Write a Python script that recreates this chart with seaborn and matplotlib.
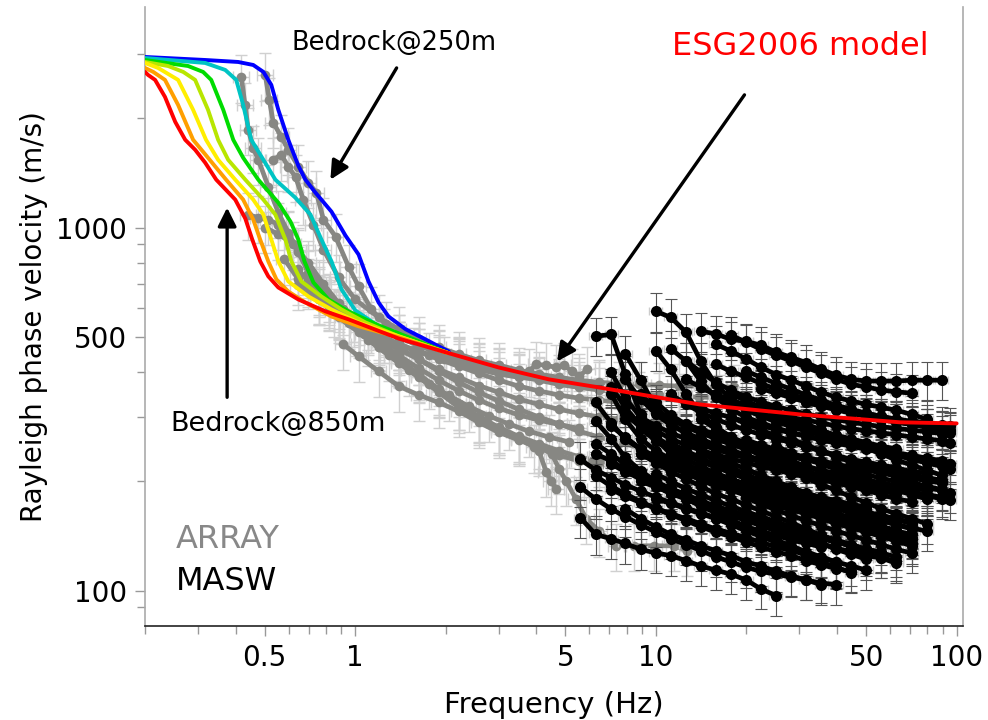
import numpy as np
import pandas as pd
import matplotlib
matplotlib.use("Agg")
import matplotlib.pyplot as plt
import seaborn as sns
from matplotlib.ticker import FixedLocator, FixedFormatter, NullFormatter

# ---------------- model dispersion curves (bedrock depth) ----------------
MODEL_NAMES = ["250m", "350m", "450m", "550m", "650m", "750m", "850m"]
MODEL_COLORS = ["#0000ff", "#00c4c4", "#00dc00", "#b8e600", "#ffee00", "#ff9f00", "#ff0000"]

F_250 = [0.2, 0.317, 0.408, 0.458, 0.495, 0.526, 0.555, 0.599, 0.647, 0.683, 0.7375, 0.834, 0.928, 1.026, 1.107, 1.196, 1.291, 1.471, 1.715, 1.895, 2.046]
V_250 = [2950, 2894, 2858, 2804, 2683, 2471, 2110, 1745, 1480, 1355, 1248, 1106, 951, 843, 711, 622, 569, 525, 492, 471, 456]
F_350 = [0.2, 0.317, 0.3696, 0.402, 0.424, 0.451, 0.495, 0.5425, 0.632, 0.7097, 0.772, 0.834, 0.900, 1.0, 1.196, 1.394, 2.046]
V_350 = [2931, 2840, 2717, 2551, 2177, 1745, 1537, 1355, 1209, 1086, 927, 807, 676, 592, 535, 502, 451]
F_450 = [0.2, 0.278, 0.312, 0.332, 0.364, 0.393, 0.424, 0.476, 0.555, 0.609, 0.647, 0.678, 0.726, 0.815, 0.95, 1.196, 2.046]
V_450 = [2894, 2786, 2683, 2551, 2110, 1745, 1557, 1355, 1171, 1039, 927, 807, 706, 634, 588, 538, 451]
F_550 = [0.2, 0.2385, 0.268, 0.2935, 0.324, 0.350, 0.378, 0.431, 0.495, 0.5425, 0.586, 0.6135, 0.662, 0.772, 0.900, 1.082, 1.394, 2.046]
V_550 = [2858, 2786, 2683, 2551, 2110, 1745, 1537, 1355, 1194, 1086, 927, 807, 711, 646, 595, 548, 502, 451]
F_650 = [0.2, 0.221, 0.2576, 0.289, 0.319, 0.350, 0.399, 0.458, 0.495, 0.526, 0.555, 0.599, 0.699, 0.834, 1.026, 1.394, 2.046]
V_650 = [2840, 2752, 2551, 2110, 1745, 1537, 1355, 1194, 1086, 927, 807, 711, 646, 595, 548, 502, 451]
F_750 = [0.2, 0.213, 0.233, 0.2576, 0.289, 0.312, 0.372, 0.424, 0.458, 0.483, 0.514, 0.547, 0.599, 0.683, 0.834, 1.026, 1.394, 2.046]
V_750 = [2752, 2683, 2551, 2177, 1745, 1617, 1355, 1194, 1052, 927, 807, 720, 667, 622, 569, 535, 499, 451]
F_850 = [0.2, 0.2046, 0.216, 0.233, 0.252, 0.272, 0.2935, 0.317, 0.345, 0.399, 0.431, 0.4546, 0.4834, 0.514, 0.555, 0.647, 0.796, 0.95, 1.394, 2.046, 3.0, 4.41, 6.47, 13.94, 30.0, 64.7, 100]
V_850 = [2683, 2633, 2551, 2290, 1955, 1745, 1638, 1509, 1355, 1194, 1059, 927, 807, 734, 684, 634, 588, 559, 495, 451, 412, 382, 363, 326, 306, 291, 289]
MODEL_F = [F_250, F_350, F_450, F_550, F_650, F_750, F_850]
MODEL_V = [V_250, V_350, V_450, V_550, V_650, V_750, V_850]

# ---------------- ARRAY measurements (grey) ----------------
ARRAY_FREQ = [
    [0.418, 0.430, 0.441, 0.458, 0.476, 0.514, 0.555, 0.599, 0.647, 0.699, 0.755, 0.815, 0.880, 0.987, 1.107, 1.243, 1.394, 1.625, 1.895, 2.209, 2.575, 3.003, 3.501, 4.081, 4.758, 5.548, 6.468, 7.54, 8.79],
    [0.502, 0.518, 0.534, 0.568, 0.599, 0.647, 0.699, 0.743, 0.784, 0.860, 0.950, 1.026, 1.132, 1.262, 1.394, 1.625, 1.895, 2.209, 2.575, 3.003, 3.501, 3.78, 3.99, 4.31, 4.65, 4.94, 5.26, 5.55, 5.92],
    [0.534, 0.568, 0.599, 0.633, 0.672, 0.726, 0.784, 0.880, 1.0, 1.196, 1.394, 1.625, 1.895, 2.209, 2.575, 3.003, 3.501, 4.081, 4.758, 5.548, 6.468, 7.54, 8.79, 10.25, 11.95, 13.93, 16.24, 18.2],
    [0.441, 0.476, 0.514, 0.555, 0.599, 0.647, 0.699, 0.755, 0.815, 0.880, 0.987, 1.107, 1.243, 1.394, 1.625, 1.895, 2.209, 2.575, 3.003, 3.501, 4.081, 4.758, 5.548, 6.468, 7.54, 8.79, 10.25, 11.95, 13.93, 16.24],
    [0.647, 0.699, 0.755, 0.815, 0.914, 1.026, 1.196, 1.394, 1.625, 1.895, 2.209, 2.575, 3.003, 3.501, 4.081, 4.758, 5.548, 6.468, 7.54, 8.79],
    [0.755, 0.847, 0.950, 1.066, 1.196, 1.394, 1.625, 1.895, 2.209, 2.575, 3.003, 3.501, 4.081, 4.758, 5.548, 6.468, 7.54],
    [0.815, 0.914, 1.026, 1.196, 1.394, 1.625, 1.895, 2.209, 2.575, 3.003, 3.501, 3.92, 4.081, 4.31, 4.48, 4.65],
    [0.880, 1.026, 1.196, 1.394, 1.625, 1.895, 2.209, 2.575, 3.003, 3.501, 4.081, 4.51, 4.758, 5.02, 5.42, 5.86, 6.468, 7.37, 8.47, 9.87, 11.5, 12.7],
    [0.647, 0.755, 0.880, 1.026, 1.196, 1.394, 1.625, 1.895, 2.209, 2.575, 3.003, 3.501, 4.081, 4.758, 5.548, 6.468, 7.54, 8.79, 10.25, 11.95],
    [0.914, 1.026, 1.196, 1.394, 1.625, 1.895, 2.209, 2.575, 3.003, 3.501, 4.081, 4.758, 5.548, 6.468],
    [1.026, 1.196, 1.394, 1.625, 1.895, 2.209, 2.575, 3.003, 3.501, 4.081, 4.758, 5.548, 6.468],
    [0.58, 0.647, 0.755, 0.880, 1.026, 1.196, 1.394, 1.625, 1.895, 2.209, 2.575, 3.003, 3.501, 4.081, 4.758, 5.548],
    [0.699, 0.815, 0.950, 1.107, 1.291, 1.505, 1.755, 2.046, 2.385, 2.781, 3.242, 3.780, 4.407, 5.138],
    [0.5, 0.555, 0.623, 0.699, 0.784, 0.880, 0.987, 1.107, 1.243, 1.394, 1.565, 1.755, 1.97, 2.21],
]
ARRAY_VEL = [
    [2600, 2178, 1859, 1660, 1538, 1297, 1100, 969, 854, 752, 676, 622, 584, 552, 525, 498, 477, 456, 434, 415, 397, 380, 366, 355, 346, 339, 335, 330, 326],
    [2633, 2248, 1944, 1778, 1638, 1471, 1330, 1248, 1052, 945, 781, 689, 595, 541, 499, 474, 454, 434, 418, 405, 395, 402, 420, 418, 412, 418, 402, 390, 407],
    [1538, 1585, 1471, 1380, 1194, 1019, 870, 729, 634, 566, 525, 492, 468, 448, 431, 418, 405, 395, 387, 380, 375, 372, 370, 368, 366, 366, 364, 364],
    [1086, 1065, 1052, 1019, 957, 870, 777, 706, 647, 607, 570, 541, 518, 499, 474, 451, 431, 415, 402, 390, 380, 370, 363, 357, 352, 348, 346, 344, 341, 341],
    [767, 711, 668, 634, 595, 559, 508, 468, 434, 402, 375, 352, 333, 316, 301, 288, 275, 265, 256, 248],
    [634, 588, 552, 508, 468, 428, 390, 355, 326, 302, 282, 266, 254, 243, 234, 227, 224],
    [614, 566, 525, 477, 434, 395, 359, 326, 301, 279, 262, 249, 243, 213, 201, 191],
    [566, 515, 468, 425, 387, 352, 320, 297, 279, 262, 249, 238, 217, 201, 179, 158, 146, 133, 133, 133, 133, 129],
    [697, 634, 577, 531, 492, 462, 434, 407, 387, 367, 352, 337, 326, 316, 308, 301, 297, 293, 290, 288],
    [477, 442, 402, 366, 346, 330, 312, 291, 273, 260, 248, 236, 228, 221],
    [531, 499, 477, 456, 440, 423, 407, 395, 387, 382, 377, 372, 370],
    [820, 720, 640, 580, 530, 485, 445, 410, 380, 355, 335, 318, 305, 295, 287, 280],
    [700, 610, 545, 490, 445, 405, 372, 345, 322, 303, 288, 275, 265, 257],
    [1000, 960, 900, 800, 700, 620, 570, 530, 500, 478, 460, 446, 435, 428],
]
ARRAY_VEL_ERR = 0.15
ARRAY_FREQ_ERR = 0.06

# ---------------- MASW measurements (black) ----------------
MASW_FREQ = [5.0, 5.6, 6.3, 7.1, 7.9, 8.9, 10.0, 11.2, 12.6, 14.1, 15.8, 17.8, 20.0, 22.4,
             25.1, 28.2, 31.6, 35.5, 39.8, 44.7, 50.1, 56.2, 63.1, 70.8, 79.4, 89.1, 95.0]
MASW_START = [9, 6, 2, 6, 7, 11, 10, 2, 3, 1, 1, 2, 2, 3, 4, 5, 8, 7, 10, 12, 5, 4, 3, 9, 11, 8, 6, 4, 13, 10, 15, 12, 5, 2,
              3, 4, 5, 6, 7, 3, 8, 9, 11, 13, 14, 2, 6, 10, 16, 12, 5, 8, 1, 4,
              7, 9, 12, 3, 10, 6]
MASW_VEL = [
    [518, 510, 492, 486, 474, 454, 439, 425, 407, 392, 382, 378, 378, 378, 380, 380, 380],
    [588, 566, 515, 429, 370, 337, 320, 308, 299, 290, 282, 275, 268, 262, 256, 250, 246],
    [502, 508, 395, 306, 262, 238, 223, 213, 206, 198, 192, 185, 180, 175, 169, 165, 161, 157],
    [458, 407, 348, 306, 283, 265, 252, 241, 230, 222, 214, 206, 199, 193, 189, 184, 179, 176],
    [464, 429, 377, 341, 316, 300, 290, 281, 273, 267, 262, 257, 252, 247, 242, 238, 234, 229, 225, 224],
    [505, 483, 462, 445, 429, 412, 397, 382, 370, 364, 357, 353, 350],
    [477, 457, 434, 412, 394, 380, 366, 352, 341, 333, 326, 320, 314, 306, 297],
    [293, 262, 233, 214, 200, 191, 183, 176, 169, 163, 158, 153, 148, 143, 139, 135, 130, 126, 122],
    [284, 265, 246, 230, 219, 210, 202, 194, 189, 183, 177, 171, 167, 163, 159, 155, 151, 147, 144, 141, 135],
    [159, 143, 139, 135, 130, 127, 125, 121, 117, 114, 111, 107, 101, 97],
    [193, 179, 168, 160, 152, 145, 139, 134, 129, 124, 120, 116, 113, 111, 109, 107, 105, 104],
    [207, 194, 185, 176, 168, 162, 156, 150, 145, 141, 136, 132, 128, 125, 121, 118, 115, 113],
    [238, 228, 216, 207, 198, 191, 184, 177, 171, 166, 161, 156, 152, 148, 144, 141, 137, 134, 130, 128],
    [348, 297, 262, 243, 230, 222, 215, 208, 202, 196, 191, 185, 181, 177, 173, 170, 167, 164, 161, 158, 154],
    [382, 337, 306, 286, 272, 262, 252, 244, 236, 229, 223, 218, 213, 208, 204, 200, 197, 193, 190, 186, 183],
    [348, 316, 297, 282, 272, 264, 257, 250, 244, 238, 234, 229, 225, 220, 218, 215, 213, 210, 207, 204, 202],
    [382, 363, 348, 335, 324, 316, 308, 300, 295, 290, 284, 279, 276, 272, 269, 265, 262, 259, 255],
    [348, 326, 310, 297, 286, 277, 269, 262, 256, 249, 243, 236, 230, 226, 222, 218, 213, 211],
    [420, 402, 387, 372, 359, 348, 337, 329, 320, 314, 308, 302, 297, 293, 290, 286, 284],
    [402, 387, 372, 359, 346, 335, 324, 316, 308, 302, 295, 288, 282, 277, 272],
    [279, 259, 243, 230, 220, 211, 203, 196, 190, 184, 178, 172, 167, 162, 158, 154, 150, 146, 143],
    [306, 282, 265, 250, 238, 228, 219, 211, 203, 196, 190, 184, 179, 175, 170, 166, 162, 159, 156],
    [223, 213, 203, 194, 185, 179, 172, 166, 161, 156, 151, 146, 141, 138, 135, 131, 128, 125, 123, 121],
    [297, 279, 265, 254, 244, 235, 228, 220, 213, 208, 203, 198, 193, 189, 184, 179],
    [348, 333, 320, 308, 297, 286, 275, 267, 259, 250, 243, 236, 230, 225, 220, 216],
    [262, 246, 230, 219, 208, 199, 191, 184, 177, 170, 164, 158, 153, 148, 143, 139],
    [179, 174, 168, 163, 158, 152, 146, 141, 136, 130, 125, 120, 116, 112],
    [168, 158, 150, 143, 138, 133, 129, 125, 120, 117, 113, 110, 107, 104],
    [326, 312, 299, 288, 277, 267, 257, 247, 238, 229, 222, 215, 208],
    [279, 262, 247, 235, 223, 213, 204, 196, 189, 181, 175, 168, 163, 158, 153],
    [262, 252, 243, 234, 226, 219, 213, 206, 199, 194, 190],
    [216, 207, 198, 190, 183, 176, 169, 163, 157, 151, 145, 140],
    [238, 225, 213, 203, 194, 185, 179, 172, 166, 160, 154, 148, 142, 137, 132, 127, 123, 119],
    [254, 238, 223, 210, 198, 189, 179, 171, 164, 157, 150, 143, 138, 133, 128, 124, 120],
    [400, 340, 300, 276, 262, 252, 244, 237, 231, 225, 220, 215, 210, 206, 202, 198, 194, 191, 188, 185],
    [262, 246, 233, 223, 214, 206, 199, 193, 187, 182, 177, 172, 168, 164, 160, 156, 153, 150, 147],
    [300, 285, 272, 262, 253, 245, 238, 232, 226, 221, 216, 211, 207, 203, 199, 196, 193, 190, 187, 184, 181, 178],
    [240, 229, 219, 210, 202, 195, 188, 182, 176, 171, 166, 161, 157, 153, 149, 145, 142],
    [300, 288, 278, 270, 262, 255, 249, 243, 238, 233, 228, 223, 219, 215, 211, 207, 204, 201, 198],
    [190, 182, 175, 169, 163, 158, 153, 148, 144, 140, 136, 132, 129, 126, 123, 120, 117, 114],
    [330, 318, 308, 300, 292, 285, 278, 272, 266, 260, 255, 250, 245, 241, 237, 233, 229, 226, 223],
    [240, 228, 218, 209, 201, 194, 187, 181, 175, 170, 165, 160, 156, 152, 148],
    [300, 288, 277, 267, 258, 250, 242, 235, 229, 223, 218, 213, 209, 205, 201],
    [360, 350, 340, 331, 323, 316, 309, 303, 297, 292, 287, 283, 279, 276],
    [250, 240, 231, 223, 216, 209, 203, 197, 192, 187, 183, 179],
    [330, 290, 262, 245, 234, 226, 219, 213, 207, 202, 197, 193, 189, 185, 181, 177, 174, 171, 168],
    [210, 200, 191, 184, 177, 171, 165, 160, 155, 150, 146, 142, 138, 134, 130, 127, 124],
    [200, 193, 186, 180, 174, 168, 163, 158, 153, 149, 145, 141, 137, 133],
    [330, 322, 315, 308, 302, 296, 291, 287, 283, 280, 277],
    [260, 252, 245, 238, 231, 225, 219, 214, 209, 204, 200, 196, 192, 189, 186],
    [200, 193, 186, 180, 174, 168, 163, 158, 154, 150, 146, 142, 139, 136, 133, 130, 127],
    [430, 400, 375, 356, 342, 331, 322, 314, 307, 301, 296, 291, 287, 283, 280, 277, 274, 271],
    [230, 215, 205, 196, 188, 181, 175, 169, 164, 159, 154, 150, 146, 142, 138, 135, 132],
    [450, 380, 320, 290, 270, 258, 248, 240, 233, 227, 221, 216, 211, 207, 203, 199, 196, 193, 190],
    [255, 243, 232, 222, 213, 205, 198, 191, 185, 179, 174, 169, 164, 160, 156, 152, 149, 146],
    [365, 345, 328, 314, 302, 292, 283, 275, 268, 262, 256, 250, 245, 240, 236, 232, 228],
    [180, 173, 167, 161, 156, 151, 146, 142, 138, 134, 130, 127],
    [365, 320, 285, 262, 247, 236, 227, 219, 212, 206, 200, 195, 190, 185, 181, 177, 173, 170],
    [235, 225, 216, 208, 200, 193, 186, 180, 175, 170, 165, 161, 157, 153],
    [330, 305, 287, 273, 262, 253, 245, 238, 231, 225, 220, 215, 210, 206, 202, 198, 195, 192, 189],
]
MASW_VEL_ERR = 0.12
MASW_FREQ_ERR = 0.05

X_MAJOR = [0.5, 1, 5, 10, 50, 100]
X_MAJOR_LABELS = ["0.5", "1", "5", "10", "50", "100"]
X_MINOR = [0.2, 0.3, 0.4, 0.6, 0.7, 0.8, 0.9, 2, 3, 4, 6, 7, 8, 9, 20, 30, 40, 60, 70, 80, 90]
Y_MAJOR = [100, 500, 1000]
Y_MAJOR_LABELS = ["100", "500", "1000"]
Y_MINOR = [90, 200, 300, 400, 600, 700, 800, 900, 2000, 3000]

# ---------------- build tables ----------------
arr_rows = []
for i, (fs, vs) in enumerate(zip(ARRAY_FREQ, ARRAY_VEL)):
    for f, v in zip(fs, vs):
        arr_rows.append((i, f, v))
arr = pd.DataFrame(arr_rows, columns=["curve", "freq", "vel"])

masw_rows = []
for i, (s, vs) in enumerate(zip(MASW_START, MASW_VEL)):
    for k, v in enumerate(vs):
        if s + k < len(MASW_FREQ):
            masw_rows.append((i, MASW_FREQ[s + k], v))
masw = pd.DataFrame(masw_rows, columns=["curve", "freq", "vel"])

mod_rows = []
for name, fs, vs in zip(MODEL_NAMES, MODEL_F, MODEL_V):
    for f, v in zip(fs, vs):
        mod_rows.append((name, f, v))
mod = pd.DataFrame(mod_rows, columns=["depth", "freq", "vel"])

# ---------------- figure ----------------
sns.set_style("white")
plt.rcParams["font.family"] = ["DejaVu Sans"]
plt.rcParams["text.color"] = "black"
plt.rcParams["axes.labelcolor"] = "black"

fig = plt.figure(figsize=(9.88, 7.2), dpi=100)
ax = fig.add_axes([0.1468, 0.1306, 0.8279, 0.8597])
ax.set_xscale("log")
ax.set_yscale("log")

# ARRAY
ax.errorbar(arr.freq, arr.vel, xerr=arr.freq * ARRAY_FREQ_ERR, yerr=arr.vel * ARRAY_VEL_ERR,
            fmt="none", ecolor="#d0d0d0", elinewidth=1.0, capsize=4, capthick=1.0, zorder=1)
sns.lineplot(data=arr, x="freq", y="vel", units="curve", estimator=None, sort=False,
             color="#878783", linewidth=3.4, marker="o", markersize=7, markeredgewidth=0,
             ax=ax, legend=False, zorder=2)

# MASW
ax.errorbar(masw.freq, masw.vel, xerr=masw.freq * MASW_FREQ_ERR,
            fmt="none", ecolor="#cccccc", elinewidth=1.0, capsize=3, capthick=1.0, zorder=3)
ax.errorbar(masw.freq, masw.vel, yerr=masw.vel * MASW_VEL_ERR,
            fmt="none", ecolor="#555555", elinewidth=0.8, capsize=4, capthick=0.8, zorder=3)
sns.lineplot(data=masw, x="freq", y="vel", units="curve", estimator=None, sort=False,
             color="black", linewidth=3.4, marker="o", markersize=8, markeredgewidth=0,
             ax=ax, legend=False, zorder=4)

# models
sns.lineplot(data=mod, x="freq", y="vel", hue="depth", hue_order=MODEL_NAMES,
             palette=dict(zip(MODEL_NAMES, MODEL_COLORS)), units="depth", estimator=None,
             sort=False, linewidth=2.8, ax=ax, legend=False, zorder=5)

ax.set_xlim(0.2, 105)
ax.set_ylim(80, 4050)

ax.xaxis.set_major_locator(FixedLocator(X_MAJOR))
ax.xaxis.set_major_formatter(FixedFormatter(X_MAJOR_LABELS))
ax.xaxis.set_minor_locator(FixedLocator(X_MINOR))
ax.xaxis.set_minor_formatter(NullFormatter())
ax.yaxis.set_major_locator(FixedLocator(Y_MAJOR))
ax.yaxis.set_major_formatter(FixedFormatter(Y_MAJOR_LABELS))
ax.yaxis.set_minor_locator(FixedLocator(Y_MINOR))
ax.yaxis.set_minor_formatter(NullFormatter())
ax.tick_params(axis="both", which="major", direction="out", length=7, width=1,
               color="#999999", labelsize=20, pad=6, labelcolor="black")
ax.tick_params(axis="both", which="minor", direction="out", length=6, width=1, color="#999999")
ax.tick_params(axis="x", which="both", bottom=True)
ax.tick_params(axis="y", which="both", left=True)

for side in ["left", "right", "top"]:
    ax.spines[side].set_color("#aaaaaa")
    ax.spines[side].set_linewidth(1.2)
ax.spines["top"].set_visible(False)
ax.spines["bottom"].set_color("#222222")
ax.spines["bottom"].set_linewidth(1.2)

ax.set_xlabel("Frequency (Hz)", fontsize=21, labelpad=14)
ax.set_ylabel("Rayleigh phase velocity (m/s)", fontsize=20, labelpad=6)

# annotations
arrow = dict(arrowstyle="-|>", color="black", lw=2.4, mutation_scale=28, shrinkA=0, shrinkB=0)
ax.annotate("", xy=(0.827, 1355), xytext=(1.373, 2752), arrowprops=arrow, zorder=7)
ax.annotate("", xy=(0.375, 1135), xytext=(0.375, 341), arrowprops=arrow, zorder=7)
ax.annotate("", xy=(4.69, 428), xytext=(19.7, 2320), arrowprops=arrow, zorder=7)

ax.text(0.613, 3222, "Bedrock@250m", fontsize=18.5, color="black", ha="left", va="center", zorder=8)
ax.text(0.242, 288, "Bedrock@850m", fontsize=19.5, color="black", ha="left", va="center", zorder=8)
ax.text(11.33, 3162, "ESG2006 model", fontsize=23, color="#ff0000", ha="left", va="center", zorder=8)
ax.text(0.2537, 138, "ARRAY", fontsize=23, color="#888888", ha="left", va="center", zorder=8)
ax.text(0.2537, 106, "MASW", fontsize=23, color="black", ha="left", va="center", zorder=8)

fig.savefig("out.png", dpi=100)
